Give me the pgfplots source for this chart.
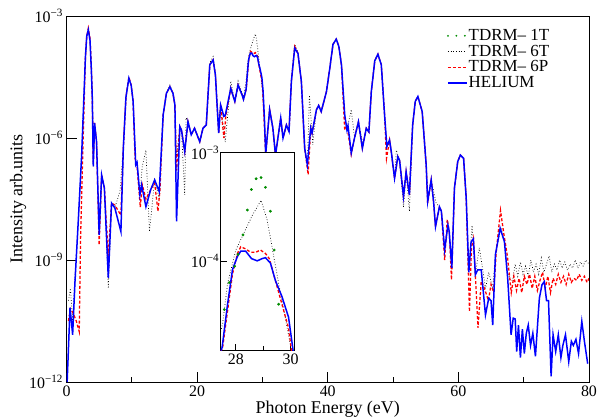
\documentclass[border=0pt]{standalone}
\usepackage{pgfplots}
\pgfplotsset{compat=1.18}
\usepackage{pgfplotstable}
\usepackage{fontspec}
\setmainfont{Liberation Serif}

\pgfplotstableread{
x y
0.1 1.0e-12
0.54 6.76e-11
0.94 1.45e-11
1.3 2.95e-10
1.8 8.91e-9
2.32 3.80e-7
2.9 1.0e-4
3.1 3.16e-4
3.34 4.57e-4
3.6 2.51e-4
3.8 5.01e-5
3.95 9.77e-6
4.1 2.0e-7
4.3 2.34e-6
4.6 8.13e-7
5.0 4.17e-9
5.38 1.23e-7
5.8 5.89e-8
6.4 3.63e-10
6.9 2.51e-8
7.4 1.91e-8
8.33 5.01e-9
8.7 5.62e-7
9.1 1.0e-5
9.55 2.95e-5
9.9 2.0e-5
10.2 7.94e-6
10.6 2.19e-7
10.8 2.51e-7
11.24 3.98e-8
11.5 7.08e-8
12.16 2.04e-8
12.87 5.25e-8
13.5 9.33e-8
14.2 4.79e-8
14.8 3.72e-6
15.3 1.26e-5
15.83 1.82e-5
16.3 1.26e-5
16.6 6.46e-6
16.85 8.91e-9
17.35 1.91e-6
17.6 1.58e-6
18.1 4.68e-7
18.6 2.51e-6
19.1 1.20e-6
19.6 1.74e-6
20.4 8.13e-7
20.9 1.74e-6
21.4 2.09e-6
21.94 6.31e-5
22.45 8.32e-5
22.8 3.55e-5
23.3 1.32e-6
23.6 6.46e-6
24.1 3.39e-6
24.3 3.55e-6
25.15 1.66e-5
25.77 7.94e-6
26.27 2.0e-5
26.88 1.15e-5
27.1 8.91e-6
27.5 1.58e-5
27.7 3.98e-5
27.88 8.32e-5
28.06 1.10e-4
28.18 1.23e-4
28.36 1.23e-4
28.57 1.05e-4
28.78 1.0e-4
28.96 1.05e-4
29.08 1.07e-4
29.26 9.55e-5
29.44 6.61e-5
29.68 4.68e-5
29.92 3.02e-5
30.1 1.41e-5
30.3 3.16e-6
30.5 3.98e-7
31.1 5.01e-6
31.6 1.74e-6
32.0 3.80e-7
32.8 3.09e-6
33.15 1.0e-6
33.67 2.09e-6
34.07 1.45e-6
34.43 2.45e-5
34.94 1.62e-4
35.44 1.20e-4
35.96 2.45e-5
36.47 5.62e-7
36.88 2.19e-7
37.39 1.74e-6
37.6 1.32e-6
38.26 4.90e-6
38.6 6.31e-6
39.0 4.47e-6
39.8 1.38e-5
40.3 5.01e-5
40.8 2.0e-4
41.3 2.69e-4
41.7 1.78e-4
42.1 6.31e-5
42.6 3.72e-6
42.94 1.58e-6
43.1 2.0e-6
43.6 4.27e-7
44.1 1.0e-6
44.7 2.51e-6
45.3 5.62e-7
45.9 1.74e-6
46.3 1.41e-6
46.67 1.38e-5
47.2 7.94e-5
47.68 1.15e-4
48.2 6.31e-5
48.7 3.72e-6
49.05 6.17e-7
49.46 8.91e-7
49.7 5.01e-7
50.23 1.02e-7
50.73 3.47e-7
51.0 2.82e-7
51.6 3.63e-8
52.0 1.48e-7
52.5 3.98e-8
53.0 2.09e-6
53.4 7.94e-6
53.8 1.05e-5
54.46 4.47e-6
55.07 2.19e-7
55.3 2.75e-8
55.84 9.33e-8
56.2 2.75e-8
56.5 6.61e-9
57.1 2.04e-8
57.4 1.58e-8
57.9 1.78e-9
58.4 7.24e-9
58.6 5.01e-9
59.0 6.31e-10
59.4 5.89e-8
59.9 2.63e-7
60.3 3.80e-7
60.8 3.16e-7
61.2 3.31e-8
61.6 5.01e-10
61.95 2.82e-9
62.3 3.31e-9
62.6 4.37e-10
62.97 5.75e-10
63.5 5.75e-10
64.15 4.47e-11
64.65 1.15e-10
65.0 1.0e-10
65.26 2.51e-11
65.67 1.35e-9
66.4 6.03e-9
67.05 2.82e-9
67.55 3.55e-10
68.07 1.45e-11
68.4 3.72e-11
68.7 3.55e-11
68.93 5.62e-12
69.2 2.51e-11
69.5 3.98e-12
69.8 2.0e-11
70.1 5.01e-12
70.4 1.58e-11
70.7 2.51e-11
71.05 7.94e-12
71.4 1.58e-11
71.8 4.27e-12
72.4 1.15e-10
72.8 2.45e-10
73.16 2.95e-10
73.5 1.0e-10
73.8 1.0e-10
74.2 1.38e-12
74.5 1.45e-11
74.9 5.62e-12
75.3 1.45e-11
75.7 3.98e-12
76.0 7.94e-12
76.4 1.45e-11
76.9 3.16e-12
77.3 1.0e-11
77.6 7.94e-12
78.0 1.12e-11
78.4 5.01e-12
78.9 3.09e-11
79.3 1.0e-11
79.8 2.82e-12
}\helium

\pgfplotstableread{
x y
0.3 3.16e-11
0.6 6.31e-11
1.0 5.01e-11
1.5 3.16e-11
1.95 1.74e-11
2.15 3.16e-9
2.45 2.51e-7
2.9 1.0e-4
3.1 3.16e-4
3.34 5.0e-4
3.6 2.82e-4
3.8 5.62e-5
3.95 1.0e-5
4.1 2.51e-7
4.3 2.34e-6
4.6 8.13e-7
5.0 2.34e-9
5.38 1.23e-7
5.8 5.89e-8
6.4 1.26e-9
6.9 2.51e-8
7.4 2.24e-8
8.33 1.26e-8
8.7 5.62e-7
9.1 1.0e-5
9.55 3.16e-5
9.9 2.0e-5
10.2 7.94e-6
10.5 3.16e-7
10.8 2.0e-7
11.3 2.0e-8
11.6 7.08e-8
12.16 3.16e-8
12.87 5.25e-8
13.5 7.94e-8
14.0 1.58e-8
14.3 5.01e-8
14.8 3.72e-6
15.3 1.26e-5
15.83 1.82e-5
16.3 1.26e-5
16.6 6.46e-6
16.85 1.58e-7
17.35 1.91e-6
17.6 1.58e-6
18.1 4.68e-7
18.6 2.51e-6
19.1 1.20e-6
19.6 1.74e-6
20.4 8.13e-7
20.9 1.74e-6
21.4 2.09e-6
21.94 6.31e-5
22.45 8.32e-5
22.8 3.55e-5
23.3 1.32e-6
23.6 6.46e-6
24.1 1.0e-6
24.4 3.55e-6
25.15 1.66e-5
25.77 7.94e-6
26.27 2.0e-5
26.88 1.15e-5
27.1 8.91e-6
27.52 1.58e-5
27.88 7.59e-5
28.06 1.17e-4
28.18 1.35e-4
28.36 1.29e-4
28.54 1.20e-4
28.72 1.20e-4
28.9 1.26e-4
29.08 1.17e-4
29.22 1.05e-4
29.44 6.61e-5
29.68 3.98e-5
29.92 2.40e-5
30.04 1.41e-5
30.3 2.0e-6
30.5 3.98e-7
31.1 5.01e-6
31.6 1.74e-6
32.0 3.80e-7
32.8 3.09e-6
33.15 1.0e-6
33.67 2.09e-6
34.07 1.45e-6
34.43 2.45e-5
34.94 1.78e-4
35.44 1.20e-4
35.96 2.45e-5
36.47 5.62e-7
37.0 1.26e-7
37.39 1.74e-6
37.6 1.32e-6
38.26 4.90e-6
38.6 6.31e-6
39.0 4.47e-6
39.8 1.38e-5
40.3 5.01e-5
40.8 2.0e-4
41.3 2.69e-4
41.7 1.78e-4
42.1 6.31e-5
42.6 1.58e-6
42.94 2.0e-6
43.6 3.98e-7
44.1 1.0e-6
44.7 2.51e-6
45.3 5.62e-7
45.9 1.74e-6
46.3 1.41e-6
46.67 1.38e-5
47.2 7.94e-5
47.68 1.15e-4
48.2 6.31e-5
48.7 3.72e-6
49.0 3.16e-7
49.46 8.91e-7
49.7 5.01e-7
50.23 1.02e-7
50.73 3.47e-7
51.0 2.82e-7
51.6 3.63e-8
52.0 1.48e-7
52.5 3.98e-8
53.0 2.09e-6
53.4 7.94e-6
53.8 1.05e-5
54.46 4.47e-6
55.07 2.19e-7
55.3 2.51e-8
55.84 9.33e-8
56.2 2.75e-8
56.5 6.61e-9
57.1 2.04e-8
57.4 1.58e-8
57.9 1.0e-9
58.3 1.0e-8
58.6 5.01e-9
58.95 3.24e-10
59.4 5.89e-8
59.9 2.63e-7
60.3 3.80e-7
60.8 3.16e-7
61.2 3.31e-8
61.7 5.37e-11
62.0 2.0e-9
62.3 3.31e-9
62.6 4.37e-10
63.0 2.14e-11
63.5 3.0e-10
64.0 2.0e-10
64.6 1.0e-10
65.0 2.5e-10
65.4 1.6e-10
65.8 1.6e-9
66.45 1.66e-8
67.0 3.98e-9
67.5 1.26e-9
68.1 1.58e-10
68.5 3.98e-10
68.9 1.78e-10
69.3 3.55e-10
69.7 1.58e-10
70.1 3.98e-10
70.5 2.51e-10
70.9 4.47e-10
71.3 2.0e-10
71.7 3.98e-10
72.1 1.78e-10
72.5 3.16e-10
72.9 5.01e-10
73.3 2.0e-10
73.7 3.98e-10
74.1 1.58e-10
74.5 3.55e-10
74.9 2.51e-10
75.3 4.47e-10
75.7 2.82e-10
76.1 3.98e-10
76.5 2.51e-10
76.9 4.47e-10
77.3 2.82e-10
77.7 3.55e-10
78.1 3.16e-10
78.5 4.47e-10
78.9 3.16e-10
79.3 3.98e-10
79.7 2.82e-10
80.0 3.55e-10
}\sixP

\pgfplotstableread{
x y
0.3 1.0e-10
0.6 2.0e-10
0.95 3.16e-11
1.3 3.98e-10
1.8 8.91e-9
2.32 3.80e-7
2.9 1.0e-4
3.1 3.16e-4
3.34 5.0e-4
3.6 2.51e-4
3.8 5.01e-5
3.95 9.77e-6
4.1 2.0e-7
4.3 2.34e-6
4.6 8.13e-7
5.0 4.17e-9
5.38 1.23e-7
5.8 5.89e-8
6.4 2.0e-10
6.9 2.51e-8
7.4 1.91e-8
8.2 5.01e-8
8.7 5.62e-7
9.1 1.0e-5
9.55 2.95e-5
9.9 2.0e-5
10.2 7.94e-6
10.6 2.19e-7
10.8 2.51e-7
11.24 3.98e-8
11.6 2.0e-7
12.16 5.01e-7
12.7 5.01e-9
13.2 3.16e-8
13.5 9.33e-8
14.2 3.16e-8
14.8 3.72e-6
15.3 1.26e-5
15.83 2.0e-5
16.3 1.26e-5
16.6 6.46e-6
16.85 3.16e-7
17.35 1.91e-6
17.6 1.58e-6
18.1 3.98e-8
18.3 3.16e-6
18.6 2.51e-6
19.1 1.20e-6
19.6 1.74e-6
20.4 8.13e-7
20.9 1.74e-6
21.4 2.09e-6
21.94 7.08e-5
22.45 1.0e-4
22.8 3.98e-5
23.3 1.32e-6
23.6 6.46e-6
24.3 7.94e-7
25.15 2.51e-5
25.77 7.94e-6
26.27 2.51e-5
26.88 1.26e-5
27.1 1.0e-5
27.52 2.63e-5
27.7 6.17e-5
28.0 1.26e-4
28.3 1.82e-4
28.6 2.63e-4
28.92 3.63e-4
29.14 2.40e-4
29.34 1.26e-4
29.56 6.17e-5
29.8 3.02e-5
30.04 1.41e-5
30.3 2.0e-6
30.5 3.98e-7
31.1 5.01e-6
31.6 1.74e-6
32.0 3.80e-7
32.8 3.09e-6
33.15 1.0e-6
33.67 2.09e-6
34.07 1.45e-6
34.43 2.45e-5
34.94 2.0e-4
35.44 1.26e-4
35.96 2.45e-5
36.47 5.62e-7
36.88 2.19e-7
37.2 1.12e-5
37.7 6.76e-7
38.26 4.90e-6
38.6 6.31e-6
39.0 4.47e-6
39.8 1.38e-5
40.3 5.01e-5
40.8 2.0e-4
41.3 2.82e-4
41.7 1.78e-4
42.1 6.31e-5
42.6 3.72e-6
42.94 1.58e-6
43.6 5.01e-6
44.1 1.0e-6
44.7 2.51e-6
45.4 6.76e-7
45.9 1.74e-6
46.3 1.41e-6
46.67 1.38e-5
47.2 7.94e-5
47.68 1.15e-4
48.2 6.31e-5
48.7 3.72e-6
49.05 6.17e-7
49.46 8.91e-7
49.7 5.01e-7
50.23 1.02e-7
50.5 5.01e-7
51.0 2.82e-7
51.6 2.0e-8
52.0 1.48e-7
52.5 1.58e-8
53.0 2.09e-6
53.4 7.94e-6
53.8 1.05e-5
54.46 4.47e-6
55.07 2.19e-7
55.3 3.16e-8
55.84 9.33e-8
56.6 2.51e-8
57.1 2.04e-8
57.4 1.58e-8
57.9 1.78e-9
58.4 7.24e-9
58.6 5.01e-9
59.0 6.31e-10
59.4 5.89e-8
59.9 2.63e-7
60.3 3.80e-7
60.8 3.16e-7
61.2 3.31e-8
61.6 5.01e-10
62.1 7.08e-9
62.6 4.37e-10
63.2 2.0e-9
63.7 6.31e-10
64.15 2.0e-10
64.65 5.0e-10
65.26 2.0e-10
65.67 1.35e-9
66.5 6.31e-9
67.05 2.82e-9
67.55 5.0e-10
68.0 3.16e-10
68.3 3.16e-10
68.7 7.94e-10
69.1 3.98e-10
69.5 8.91e-10
69.9 4.47e-10
70.3 7.08e-10
70.7 3.98e-10
71.1 1.0e-9
71.5 5.01e-10
71.9 7.94e-10
72.3 4.47e-10
72.7 1.12e-9
73.1 5.01e-10
73.5 7.94e-10
73.9 1.26e-9
74.3 5.01e-10
74.7 7.94e-10
75.1 5.62e-10
75.5 1.0e-9
75.9 6.31e-10
76.3 8.91e-10
76.7 5.62e-10
77.1 7.94e-10
77.5 6.31e-10
77.9 1.0e-9
78.3 6.31e-10
78.7 8.91e-10
79.1 7.08e-10
79.5 1.0e-9
80.0 7.94e-10
}\sixT

\pgfplotstableread{
x y
27.58 3.55e-5
27.76 6.31e-5
27.96 8.91e-5
28.08 1.15e-4
28.26 1.74e-4
28.42 2.95e-4
28.57 4.57e-4
28.74 5.75e-4
28.92 5.89e-4
29.08 4.79e-4
29.26 2.88e-4
29.4 1.26e-4
29.56 3.98e-5
}\oneT

\definecolor{tgreen}{RGB}{0,140,0}

\begin{document}
\begin{tikzpicture}
\begin{axis}[
  at={(0,0)}, anchor=south west,
  scale only axis, width=522.5bp, height=366bp,
  xmin=0, xmax=80, ymode=log, ymin=1e-12, ymax=1e-3,
  xtick={0,20,40,60,80}, minor xtick={10,30,50,70},
  ytick={1e-12,1e-9,1e-6,1e-3},
  yticklabels={10\textsuperscript{−12},10\textsuperscript{−9},10\textsuperscript{−6},10\textsuperscript{−3}},
  yminorticks=false,
  tick pos=left, tick align=inside,
  major tick length=10bp, minor tick length=5bp,
  tick style={black, line width=0.8pt},
  axis line style={line width=0.9pt},
  /pgf/number format/assume math mode=true,
  tick label style={font=\fontsize{16}{18}\selectfont},
  xlabel={Photon Energy (eV)}, ylabel={Intensity arb.units},
  label style={font=\fontsize{18}{20}\selectfont},
  xlabel style={yshift=2pt},
  ylabel style={yshift=-4pt},
  legend style={draw=none, fill=none, inner sep=0pt, at={(0.926,0.968)}, anchor=north east,
    font=\fontsize{17}{17}\selectfont, row sep=0pt,
    nodes={inner sep=1pt, text height=11.5pt, text depth=2.3pt}},
  legend cell align=left,
  legend image post style={xscale=1.1},
]
\addlegendimage{tgreen, line width=2pt, dash pattern=on 0pt off 8.5pt, line cap=round}
\addlegendentry{TDRM– 1T}
\addplot[black, line width=0.7pt, dotted] table {\sixT};
\addlegendentry{TDRM– 6T}
\addplot[red, line width=1.3pt, dash pattern=on 3pt off 2pt] table {\sixP};
\addlegendentry{TDRM– 6P}
\addplot[blue, line width=1.5pt] table {\helium};
\addlegendentry{HELIUM}
\end{axis}
\begin{axis}[
  at={(154.2bp,32bp)}, anchor=south west,
  scale only axis, width=73.3bp, height=197.3bp,
  xmin=27.45, xmax=30.12, ymode=log, ymin=1.5e-5, ymax=1e-3,
  axis background/.style={fill=white},
  xtick={28,30}, minor xtick={29},
  ytick={1e-4,1e-3},
  yticklabels={10\textsuperscript{−4},10\textsuperscript{−3}},
  yminorticks=false,
  tick pos=left, tick align=inside,
  major tick length=6bp, minor tick length=4bp,
  tick style={black, line width=0.7pt},
  axis line style={line width=0.8pt},
  /pgf/number format/assume math mode=true,
  tick label style={font=\fontsize{16}{18}\selectfont},
  yticklabel style={xshift=2pt},
]
\addplot[tgreen, only marks, mark=*, mark size=1.2pt] table {\oneT};
\addplot[black, line width=0.7pt, dotted] table {\sixT};
\addplot[red, line width=1.3pt, dash pattern=on 3pt off 2pt] table {\sixP};
\addplot[blue, line width=1.5pt] table {\helium};
\end{axis}
\pgfresetboundingbox
\path (-66.5bp,-36bp) rectangle (532.5bp,382bp);
\end{tikzpicture}
\end{document}
